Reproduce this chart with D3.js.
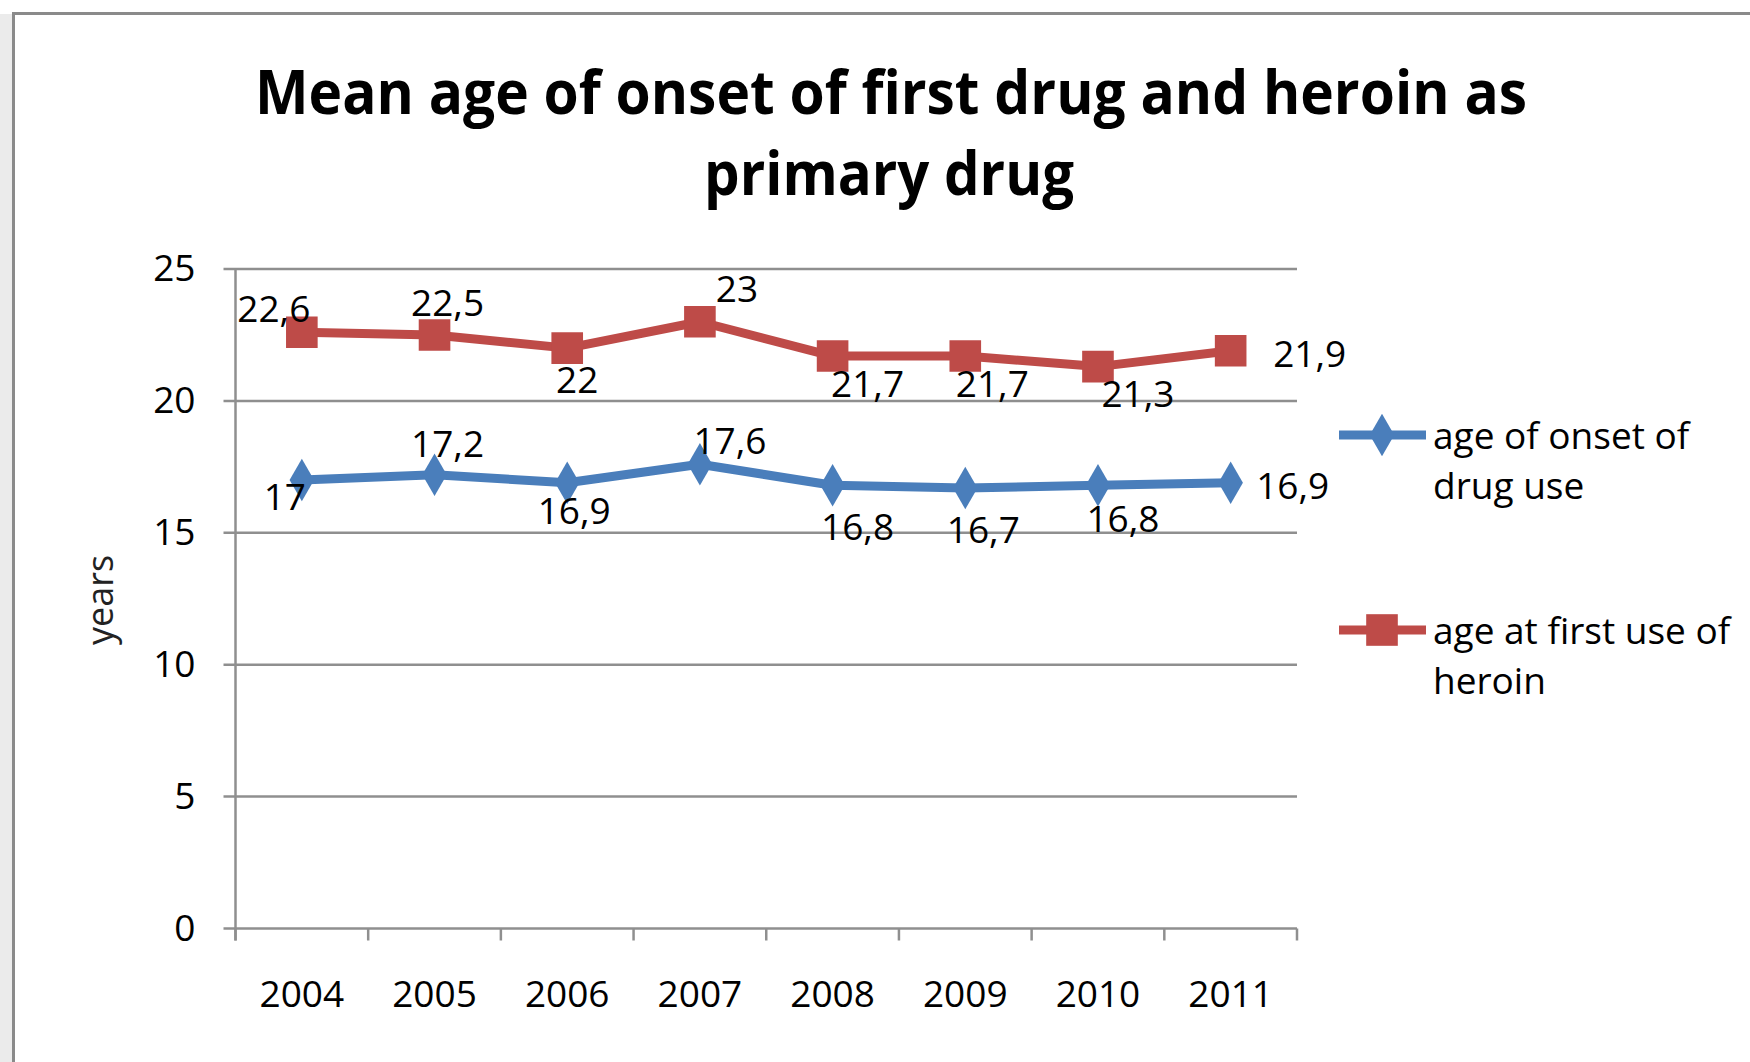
<!DOCTYPE html>
<html>
<head>
<meta charset="utf-8">
<script src="https://cdn.jsdelivr.net/npm/d3@7"></script>
<style>
  body { margin: 0; background: #fff; }
  svg text { font-family: "Open Sans", "DejaVu Sans", sans-serif; }
</style>
</head>
<body>
<div id="chart"></div>
<script>
// data
var years = ["2004", "2005", "2006", "2007", "2008", "2009", "2010", "2011"];
var onsetDrug = [17, 17.2, 16.9, 17.6, 16.8, 16.7, 16.8, 16.9];
var firstHeroin = [22.6, 22.5, 22, 23, 21.7, 21.7, 21.3, 21.9];
var yTicks = [0, 5, 10, 15, 20, 25];
var seriesNames = [["age of onset of", "drug use"], ["age at first use of", "heroin"]];

// label placement (px from the point), as Excel put them
var onsetOffsets = [[-17, 30], [13, -18], [7, 41], [30, -10], [25, 55], [18, 55], [25, 47], [62, 16]];
var heroinOffsets = [[-28, -10], [13, -19], [10, 45], [37, -20], [35, 41], [27, 41], [40, 40], [79, 16]];

var W = 1750, H = 1062;
var plot = { left: 235.5, right: 1297, top: 269, bottom: 928.5 };
var blue = "#4a7ebb", red = "#be4b48", grid = "#8f8f8f";

var svg = d3.select("#chart").append("svg")
  .attr("width", W)
  .attr("height", H);

// background + frame
svg.append("rect").attr("width", W).attr("height", H).attr("fill", "#fff");
svg.append("rect").attr("x", 0).attr("y", 14).attr("width", 12).attr("height", H - 14).attr("fill", "#ebebeb");
svg.append("line").attr("x1", 13).attr("x2", W).attr("y1", 13.5).attr("y2", 13.5)
  .attr("stroke", "#8a8a8a").attr("stroke-width", 3);
svg.append("line").attr("x1", 13.5).attr("x2", 13.5).attr("y1", 12).attr("y2", H)
  .attr("stroke", "#8a8a8a").attr("stroke-width", 3);

// title
svg.append("text")
  .attr("x", 891).attr("y", 114)
  .attr("text-anchor", "middle")
  .attr("font-size", 60).attr("font-weight", "bold")
  .attr("textLength", 1272).attr("lengthAdjust", "spacingAndGlyphs")
  .text("Mean age of onset of first drug and heroin as");
svg.append("text")
  .attr("x", 889).attr("y", 195)
  .attr("text-anchor", "middle")
  .attr("font-size", 60).attr("font-weight", "bold")
  .attr("textLength", 370).attr("lengthAdjust", "spacingAndGlyphs")
  .text("primary drug");

var x = d3.scaleBand().domain(years).range([plot.left, plot.right]);
var y = d3.scaleLinear().domain([0, 25]).range([plot.bottom, plot.top]);

// gridlines
svg.append("g").selectAll("line")
  .data(yTicks)
  .enter().append("line")
  .attr("x1", plot.left - 12).attr("x2", plot.right)
  .attr("y1", function (d) { return y(d); })
  .attr("y2", function (d) { return y(d); })
  .attr("stroke", grid).attr("stroke-width", 2.5);

// y axis
var yAxis = svg.append("g")
  .attr("transform", "translate(" + plot.left + ",0)")
  .call(d3.axisLeft(y).tickValues(yTicks).tickSize(0).tickPadding(40));
yAxis.select(".domain").remove();
yAxis.selectAll("text").attr("font-size", 37).attr("fill", "#000")
  .attr("font-family", "'Open Sans', sans-serif");

svg.append("line")
  .attr("x1", plot.left).attr("x2", plot.left)
  .attr("y1", plot.top).attr("y2", plot.bottom + 12)
  .attr("stroke", grid).attr("stroke-width", 2.5);

// x axis labels and boundary ticks
var xAxis = svg.append("g")
  .attr("transform", "translate(0," + plot.bottom + ")")
  .call(d3.axisBottom(x).tickSize(0).tickPadding(52));
xAxis.select(".domain").remove();
xAxis.selectAll("text").attr("font-size", 37).attr("fill", "#000")
  .attr("font-family", "'Open Sans', sans-serif");

var bounds = years.map(function (d) { return x(d); }).concat([x(years[years.length - 1]) + x.bandwidth()]);
svg.append("g").selectAll("line")
  .data(bounds)
  .enter().append("line")
  .attr("x1", function (d) { return d; }).attr("x2", function (d) { return d; })
  .attr("y1", plot.bottom).attr("y2", plot.bottom + 12)
  .attr("stroke", grid).attr("stroke-width", 2.5);

// y axis title
svg.append("text")
  .attr("transform", "translate(100,600) rotate(-90)")
  .attr("text-anchor", "middle")
  .attr("dy", "0.35em")
  .attr("font-size", 36).attr("fill", "#222")
  .text("years");

var cx = function (i) { return x(years[i]) + x.bandwidth() / 2; };
var line = d3.line()
  .x(function (d, i) { return cx(i); })
  .y(function (d) { return y(d); });

var diamond = d3.symbol().type(d3.symbolDiamond).size(520);
var square = d3.symbol().type(d3.symbolSquare).size(1000);

function drawSeries(values, color, sym, offsets) {
  var g = svg.append("g");
  g.append("path").datum(values)
    .attr("d", line)
    .attr("fill", "none").attr("stroke", color).attr("stroke-width", 9)
    .attr("stroke-linejoin", "round");
  g.selectAll(".m").data(values).enter().append("path")
    .attr("class", "m")
    .attr("d", sym)
    .attr("transform", function (d, i) { return "translate(" + cx(i) + "," + y(d) + ")"; })
    .attr("fill", color);
  g.selectAll(".lbl").data(values).enter().append("text")
    .attr("class", "lbl")
    .attr("x", function (d, i) { return cx(i) + offsets[i][0]; })
    .attr("y", function (d, i) { return y(d) + offsets[i][1]; })
    .attr("text-anchor", "middle")
    .attr("font-size", 37).attr("fill", "#000")
    .text(function (d) { return String(d).replace(".", ","); });
}

drawSeries(onsetDrug, blue, diamond, onsetOffsets);
drawSeries(firstHeroin, red, square, heroinOffsets);

// legend
var legendY = [435, 630];
var legendColors = [blue, red];
var legendSyms = [diamond, square];
seriesNames.forEach(function (names, k) {
  var g = svg.append("g").attr("transform", "translate(0," + legendY[k] + ")");
  g.append("line").attr("x1", 1339).attr("x2", 1426).attr("y1", 0).attr("y2", 0)
    .attr("stroke", legendColors[k]).attr("stroke-width", 9);
  g.append("path").attr("d", legendSyms[k]).attr("transform", "translate(1382,0)")
    .attr("fill", legendColors[k]);
  names.forEach(function (t, j) {
    g.append("text")
      .attr("x", 1433).attr("y", 14 + j * 50)
      .attr("font-size", 37).attr("fill", "#000")
      .text(t);
  });
});
</script>
</body>
</html>
